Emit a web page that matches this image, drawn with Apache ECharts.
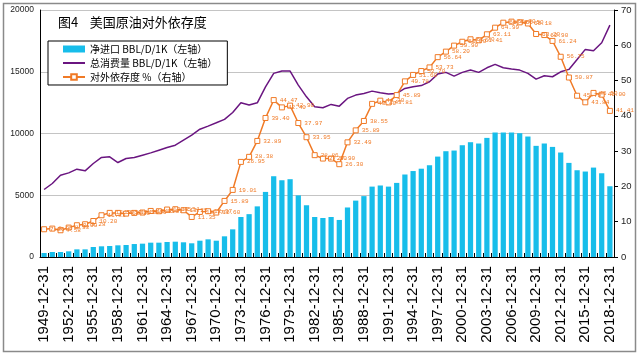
<!DOCTYPE html>
<html>
<head>
<meta charset="utf-8">
<script src="https://cdn.jsdelivr.net/npm/echarts@6/dist/echarts.min.js"></script>
<style>html,body{margin:0;padding:0;background:#fff}#c{width:640px;height:356px}</style>
</head>
<body>
<div id="c"></div>
<script>
var years = [];
for (var y = 1949; y <= 2018; y++) years.push(y + '-12-31');

var netImports = [324,405,405,460,620,620,810,865,890,945,
970,1050,1080,1160,1160,1215,1240,1190,1110,1320,
1430,1320,1675,2240,3240,3470,4100,5270,6540,6215,
6300,4990,4190,3240,3160,3240,3000,4010,4565,4930,
5700,5790,5700,6000,6680,6960,7150,7430,8130,8565,
8620,9050,9295,9190,9645,10080,10080,10080,10025,9755,
9000,9190,8915,8460,7620,7025,6920,7240,6780,5730];

var consumption = [5465,5950,6620,6810,7110,6975,7570,8060,8110,7650,
7975,8060,8245,8430,8650,8870,9055,9460,9865,10350,
10600,10865,11140,11700,12485,12300,12485,13780,14870,15055,
15055,13920,12970,12160,12080,12355,12215,12840,13110,13245,
13430,13295,13190,13245,13650,13780,13880,14190,14810,14950,
14650,14950,15135,14950,15320,15595,15320,15215,15135,14870,
14405,14675,14595,14995,15190,16000,16810,16700,17350,18780];

var dependence = [7.86,8.05,7.58,8.33,9.00,9.28,10.20,11.83,12.50,12.50,
12.30,12.50,12.60,13.05,12.97,13.45,13.54,13.25,11.35,12.77,
12.97,12.60,15.89,19.01,26.95,28.38,32.89,39.40,44.47,42.40,
42.90,37.97,33.95,28.86,27.90,27.90,26.30,32.49,35.89,38.55,
43.40,44.30,43.81,45.89,49.78,51.60,52.70,53.73,56.64,58.20,
59.90,61.00,61.70,61.41,63.11,64.99,66.40,66.70,66.50,66.18,
63.20,62.90,61.24,56.75,50.87,45.70,43.84,46.50,46.00,41.41];

var leftTicks = [0, 5000, 10000, 15000, 20000];
var rightTicks = [0, 10, 20, 30, 40, 50, 60, 70];

var cyan = '#17BDEA', purple = '#6A1580', orange = '#F07A26';

var chart = echarts.init(document.getElementById('c'), null, {renderer: 'canvas'});
chart.setOption({
  animation: false,
  backgroundColor: '#fff',
  textStyle: {fontFamily: 'Liberation Sans, Noto Sans CJK SC, sans-serif'},
  graphic: [{
    type: 'rect', shape: {x: 3.5, y: 3.5, width: 632, height: 348},
    style: {fill: 'none', stroke: '#8a8a8a', lineWidth: 1.5}, silent: true, z: 100
  }],
  title: {
    text: '图4    美国原油对外依存度', left: 53, top: 11,
    textStyle: {fontSize: 13, fontWeight: 'normal', color: '#000', fontFamily: 'Noto Sans CJK SC, sans-serif'}
  },
  legend: {
    orient: 'vertical', left: 48, top: 41,
    backgroundColor: '#fff', borderColor: '#000', borderWidth: 1,
    padding: [3, 10, 3, 14], itemGap: 4, itemWidth: 22, itemHeight: 7,
    textStyle: {fontSize: 10, color: '#000', fontFamily: 'Noto Sans CJK SC, sans-serif'},
    data: [
      {name: '净进口 BBL/D/1K（左轴）', icon: 'rect'},
      {name: '总消费量 BBL/D/1K（左轴）', itemStyle: {opacity: 0}},
      {name: '对外依存度 %（右轴）'}
    ]
  },
  grid: {left: 40, right: 26, top: 10, bottom: 99, containLabel: false},
  xAxis: {
    type: 'category', data: years, boundaryGap: true,
    axisLine: {lineStyle: {color: '#000', width: 1}},
    axisTick: {show: true, inside: true, interval: 0, length: 4, lineStyle: {color: '#000'}},
    axisLabel: {interval: 2, rotate: 90, fontSize: 15, color: '#000', margin: 9}
  },
  yAxis: [{
    type: 'value', min: leftTicks[0], max: leftTicks[leftTicks.length - 1], interval: 5000,
    axisLine: {show: true, lineStyle: {color: '#000'}},
    axisTick: {show: false},
    axisLabel: {fontSize: 8.5, color: '#222', margin: 6, formatter: function (v) { return String(v); }},
    splitLine: {show: true, lineStyle: {color: '#c4c4c4', width: 1}}
  }, {
    type: 'value', position: 'right', min: rightTicks[0], max: rightTicks[rightTicks.length - 1], interval: 10,
    axisLine: {show: true, lineStyle: {color: '#000'}},
    axisTick: {show: true, inside: false, length: 4, lineStyle: {color: '#000'}},
    axisLabel: {fontSize: 9.5, color: '#222', margin: 7},
    splitLine: {show: false}
  }],
  series: [{
    name: '净进口 BBL/D/1K（左轴）', type: 'bar', yAxisIndex: 0,
    data: netImports, barWidth: '64%', itemStyle: {color: cyan}, z: 1
  }, {
    name: '总消费量 BBL/D/1K（左轴）', type: 'line', yAxisIndex: 0,
    data: consumption, symbol: 'none', lineStyle: {color: purple, width: 1.5},
    itemStyle: {color: purple}, z: 3
  }, {
    name: '对外依存度 %（右轴）', type: 'line', yAxisIndex: 1,
    data: dependence, symbol: 'rect', symbolSize: 5, showAllSymbol: true,
    lineStyle: {color: orange, width: 1.5},
    itemStyle: {color: '#fff', borderColor: orange, borderWidth: 1},
    label: {
      show: true, position: 'right', distance: 3, fontSize: 6, color: orange,
      fontFamily: 'Liberation Mono, monospace',
      formatter: function (p) { return p.value.toFixed(2); }
    },
    labelLayout: {hideOverlap: false},
    z: 4
  }]
});
</script>
</body>
</html>
